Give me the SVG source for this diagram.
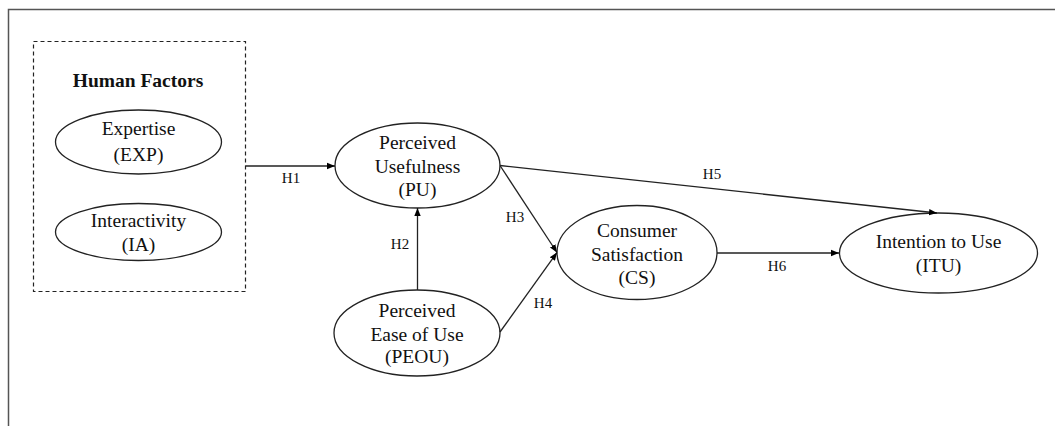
<svg xmlns="http://www.w3.org/2000/svg" width="1055" height="426" viewBox="0 0 1055 426">
<defs>
<marker id="arr" viewBox="0 0 10 10" refX="10" refY="5" markerWidth="8" markerHeight="8" markerUnits="userSpaceOnUse" orient="auto">
<path d="M0,1 L10,5 L0,9 Z" fill="#000"/>
</marker>
</defs>
<style>
.t{font-family:"Liberation Serif","Times New Roman",serif;font-size:19.5px;fill:#111;text-anchor:middle}
.lb{font-family:"Liberation Serif","Times New Roman",serif;font-size:15px;fill:#111;text-anchor:middle}
.e{fill:#fff;stroke:#222;stroke-width:1.3}
.c{fill:none;stroke:#222;stroke-width:1.3;marker-end:url(#arr)}
</style>
<rect width="1055" height="426" fill="#fff"/>
<path d="M8.5,426 V9.5 H1055" fill="none" stroke="#555" stroke-width="1.5"/>
<g id="human-factors">
<rect x="33.5" y="41.5" width="212" height="250" fill="none" stroke="#222" stroke-width="1.2" stroke-dasharray="4,3"/>
<text class="t" x="138" y="87" font-weight="bold">Human Factors</text>
</g>
<g id="exp">
<ellipse class="e" cx="138.5" cy="142" rx="83" ry="32"/>
<text class="t" x="138.5" y="135">Expertise</text>
<text class="t" x="138.5" y="161">(EXP)</text>
</g>
<g id="ia">
<ellipse class="e" cx="138.5" cy="232" rx="83" ry="28.5"/>
<text class="t" x="138.5" y="226.5">Interactivity</text>
<text class="t" x="138.5" y="250.5">(IA)</text>
</g>
<g id="pu">
<ellipse class="e" cx="417.5" cy="165.5" rx="82.5" ry="42.5"/>
<text class="t" x="417.5" y="149">Perceived</text>
<text class="t" x="417.5" y="172.5">Usefulness</text>
<text class="t" x="417.5" y="196">(PU)</text>
</g>
<g id="peou">
<ellipse class="e" cx="417" cy="333" rx="83" ry="43"/>
<text class="t" x="417" y="317">Perceived</text>
<text class="t" x="417" y="340.5">Ease of Use</text>
<text class="t" x="417" y="363">(PEOU)</text>
</g>
<g id="cs">
<ellipse class="e" cx="637" cy="252.5" rx="80" ry="47"/>
<text class="t" x="637" y="236.5">Consumer</text>
<text class="t" x="637" y="261">Satisfaction</text>
<text class="t" x="637" y="283.5">(CS)</text>
</g>
<g id="itu">
<ellipse class="e" cx="938.5" cy="253" rx="99" ry="40"/>
<text class="t" x="938.5" y="247.5">Intention to Use</text>
<text class="t" x="938.5" y="271.5">(ITU)</text>
</g>
<g id="connectors">
<line class="c" x1="245.5" y1="166" x2="335" y2="166"/>
<line class="c" x1="417.5" y1="290" x2="417.5" y2="208"/>
<line class="c" x1="500" y1="165.5" x2="557" y2="252.5"/>
<line class="c" x1="500" y1="332" x2="557" y2="252.5"/>
<line class="c" x1="500" y1="165.5" x2="937" y2="213"/>
<line class="c" x1="717" y1="253" x2="839" y2="253"/>
<text class="lb" x="291" y="183">H1</text>
<text class="lb" x="400" y="249">H2</text>
<text class="lb" x="515" y="222">H3</text>
<text class="lb" x="543" y="308">H4</text>
<text class="lb" x="712" y="179">H5</text>
<text class="lb" x="777" y="271">H6</text>
</g>
</svg>
